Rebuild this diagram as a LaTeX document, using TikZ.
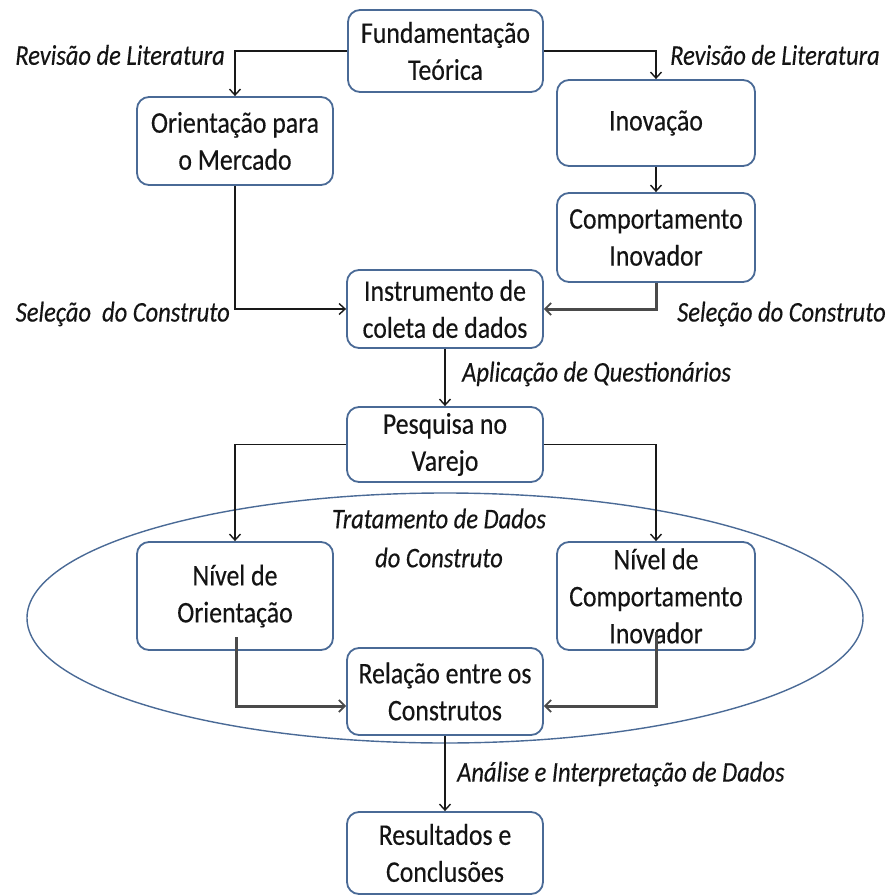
\documentclass[tikz,border=0pt]{standalone}
\usepackage{fontspec}
\setmainfont{Carlito}[FakeStretch=0.86, FakeBold=0.3]
\usetikzlibrary{arrows.meta}
\definecolor{boxline}{HTML}{4A6A96}
\definecolor{inkgray}{HTML}{4A4A4A}
\definecolor{txt}{HTML}{141414}
\tikzset{
  stepbox/.style={draw=boxline, line width=1.8pt, rounded corners=12pt, fill=white,
    align=center, text=txt, inner sep=0pt,
    font=\fontsize{30}{37}\selectfont},
  conn/.style={draw=black!90, line width=1.6pt, -{Straight Barb[length=6pt,width=11pt,line width=1.4pt]}},
  thickconn/.style={draw=inkgray, line width=3pt, -{Straight Barb[length=6pt,width=12pt,line width=1.8pt]}},
  lbl/.style={text=txt, inner sep=0pt, align=center, font=\fontsize{28.5}{39}\selectfont\itshape},
}
\begin{document}
\begin{tikzpicture}[x=1pt,y=-1pt]
\useasboundingbox (0,0) rectangle (889,896);

% grouping ellipse for the data-treatment stage
\draw[boxline, line width=1.4pt] (445,618) ellipse [x radius=418, y radius=125];

% process boxes
\node[stepbox, minimum width=195pt, minimum height=82pt] (fund) at (445.5,51) {Fundamentação\\Teórica};
\node[stepbox, minimum width=196pt, minimum height=88pt] (orient) at (235,141) {Orientação para\\o Mercado};
\node[stepbox, minimum width=198pt, minimum height=86pt] (inov) at (656,123) {Inovação};
\node[stepbox, minimum width=198pt, minimum height=89pt] (comp) at (656,237.5) {Comportamento\\Inovador};
\node[stepbox, minimum width=196pt, minimum height=78pt] (instr) at (445,309) {Instrumento de\\coleta de dados};
\node[stepbox, minimum width=196pt, minimum height=75pt] (pesq) at (445,444.5) {Pesquisa no\\Varejo};
\node[stepbox, minimum width=196pt, minimum height=108pt] (nivo) at (235,596) {Nível de\\Orientação};
\node[stepbox, minimum width=198pt, minimum height=108pt] (nivc) at (656,596) {Nível de\\Comportamento\\Inovador};
\node[stepbox, minimum width=196pt, minimum height=87pt] (rel) at (445,691.5) {Relação entre os\\Construtos};
\node[stepbox, minimum width=196pt, minimum height=82pt] (res) at (445,853) {Resultados e\\Conclusões};

% connectors
\draw[conn] (fund.west) -| (orient.north);
\draw[conn] (fund.east) -| (inov.north);
\draw[conn] (inov.south) -- (comp.north);
\draw[conn] (orient.south) |- (instr.west);
\draw[thickconn] (comp.south) |- (instr.east);
\draw[conn] (instr.south) -- (pesq.north);
\draw[conn] (pesq.west) -| (nivo.north);
\draw[conn] (pesq.east) -| (nivc.north);
\coordinate (nivoout) at (236,637);
\coordinate (nivcout) at (656,632);
\draw[thickconn] (nivoout) |- ([yshift=-14.5pt]rel.west);
\draw[thickconn] (nivcout) |- ([yshift=-14.5pt]rel.east);
\draw[conn] (rel.south) -- (res.north);

% connector labels
\node[lbl, anchor=east] (l1) at (225,55) {Revisão de Literatura};
\node[lbl, anchor=west] (l2) at (670,55) {Revisão de Literatura};
\node[lbl, anchor=east] (l3) at (230,314) {Seleção\ \ do Construto};
\node[lbl, anchor=west] (l4) at (677,314) {Seleção do Construto};
\node[lbl, anchor=west] (l5) at (462,374) {Aplicação de Questionários};
\node[lbl] (l6) at (439,538) {Tratamento de Dados\\do Construto};
\node[lbl, anchor=west] (l7) at (457,774) {Análise e Interpretação de Dados};
\end{tikzpicture}
\end{document}
